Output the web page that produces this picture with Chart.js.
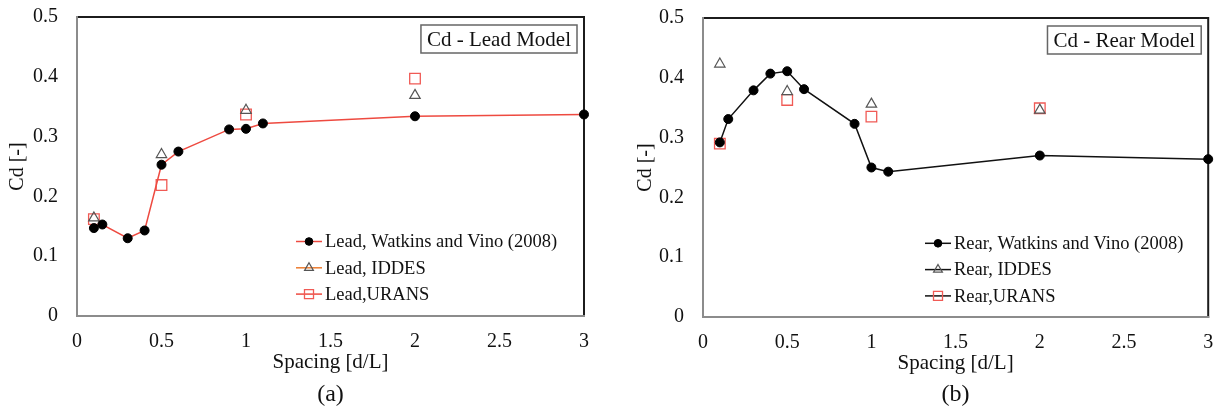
<!DOCTYPE html>
<html><head><meta charset="utf-8">
<script src="https://cdn.jsdelivr.net/npm/chart.js@4/dist/chart.umd.min.js"></script>
<style>
html,body{margin:0;padding:0;background:#fff;width:1217px;height:407px;overflow:hidden}
canvas{position:absolute;top:0}
#ca{left:0}
#cb{left:610px}
</style></head><body>
<canvas id="ca" width="605" height="407"></canvas>
<canvas id="cb" width="607" height="407"></canvas>
<script>
// ---- data ----
const spacingExp = [0.1, 0.15, 0.3, 0.4, 0.5, 0.6, 0.9, 1.0, 1.1, 2.0, 3.0];
const spacingCfd = [0.1, 0.5, 1.0, 2.0];
const leadExp   = [0.147, 0.153, 0.130, 0.143, 0.253, 0.275, 0.312, 0.313, 0.322, 0.334, 0.337];
const leadIddes = [0.164, 0.270, 0.344, 0.369];
const leadUrans = [0.162, 0.219, 0.337, 0.397];
const rearExp   = [0.292, 0.331, 0.379, 0.407, 0.411, 0.381, 0.323, 0.250, 0.243, 0.270, 0.264];
const rearIddes = [0.423, 0.377, 0.356, 0.346];
const rearUrans = [0.290, 0.363, 0.335, 0.349];
const xTickValues = [0, 0.5, 1, 1.5, 2, 2.5, 3];
const yTickValues = [0, 0.1, 0.2, 0.3, 0.4, 0.5];
const leadLabels = ['Lead, Watkins and Vino (2008)', 'Lead, IDDES', 'Lead,URANS'];
const rearLabels = ['Rear, Watkins and Vino (2008)', 'Rear, IDDES', 'Rear,URANS'];

const FONT = "'Liberation Serif', 'Times New Roman', serif";
const pts = (xs, ys) => xs.map((x, i) => ({x: x, y: ys[i]}));
const fmt = v => String(+(+v).toFixed(2));

const decor = {
  id: 'decor',
  beforeDatasetsDraw(chart, args, o) {
    const {ctx, chartArea: a} = chart;
    ctx.save();
    ctx.lineCap = 'square';
    ctx.lineWidth = 2;
    ctx.strokeStyle = '#1c1c1c';
    ctx.beginPath(); ctx.moveTo(a.left, a.top); ctx.lineTo(a.right, a.top); ctx.lineTo(a.right, a.bottom); ctx.stroke();
    ctx.strokeStyle = '#8c8c8c';
    ctx.beginPath(); ctx.moveTo(a.left, a.top); ctx.lineTo(a.left, a.bottom); ctx.lineTo(a.right, a.bottom); ctx.stroke();
    ctx.restore();
  },
  afterDraw(chart, args, o) {
    const {ctx, chartArea: a} = chart;
    ctx.save();
    // title box
    ctx.font = o.boxFont;
    const tw = ctx.measureText(o.boxText).width;
    const bw = tw + 2 * o.boxPad, bh = o.boxH;
    const bx = a.right - o.boxRight - bw, by = a.top + o.boxTop;
    ctx.fillStyle = '#fff'; ctx.fillRect(bx, by, bw, bh);
    ctx.strokeStyle = '#666'; ctx.lineWidth = 1.5; ctx.strokeRect(bx, by, bw, bh);
    ctx.fillStyle = '#111'; ctx.textAlign = 'center'; ctx.textBaseline = 'middle';
    ctx.fillText(o.boxText, bx + bw / 2, by + bh / 2 + 1);
    // legend
    chart.data.datasets.forEach((ds, i) => {
      const y = o.legY + i * o.legRow;
      ctx.strokeStyle = ds.legendLine; ctx.lineWidth = 1.5;
      ctx.beginPath(); ctx.moveTo(o.legX, y); ctx.lineTo(o.legX + o.legLen, y); ctx.stroke();
      ctx.fillStyle = ds.pointBackgroundColor; ctx.strokeStyle = ds.pointBorderColor; ctx.lineWidth = ds.pointBorderWidth;
      Chart.helpers.drawPoint(ctx, {pointStyle: ds.pointStyle, radius: ds.pointRadius * 0.85, borderWidth: ds.pointBorderWidth, rotation: 0}, o.legX + o.legLen / 2, y);
      ctx.fillStyle = '#111'; ctx.textAlign = 'left'; ctx.textBaseline = 'middle';
      ctx.font = o.legFont;
      ctx.fillText(ds.label, o.legX + o.legLen + 3, y + 1);
    });
    // caption
    ctx.font = o.capFont; ctx.textAlign = 'center'; ctx.textBaseline = 'middle'; ctx.fillStyle = '#111';
    ctx.fillText(o.caption, (a.left + a.right) / 2, o.capY);
    ctx.restore();
  }
};

function makeChart(id, labels, exp, iddes, urans, lineColor, iddesLine, uransLine, opts) {
  return new Chart(document.getElementById(id), {
    type: 'scatter',
    data: {
      datasets: [
        {label: labels[0], data: pts(spacingExp, exp), showLine: true, borderColor: lineColor, borderWidth: 1.5,
         legendLine: lineColor, pointStyle: 'circle', pointRadius: 4.5, pointBackgroundColor: '#000', pointBorderColor: '#000', pointBorderWidth: 1, clip: false},
        {label: labels[1], data: pts(spacingCfd, iddes), showLine: false, borderColor: iddesLine,
         legendLine: iddesLine, pointStyle: 'triangle', pointRadius: 6, pointBackgroundColor: 'rgba(255,255,255,0)', pointBorderColor: '#555', pointBorderWidth: 1.2, clip: false},
        {label: labels[2], data: pts(spacingCfd, urans), showLine: false, borderColor: uransLine,
         legendLine: uransLine, pointStyle: 'rect', pointRadius: 7.5, pointBackgroundColor: 'rgba(255,255,255,0)', pointBorderColor: '#f05a55', pointBorderWidth: 1.3, clip: false}
      ]
    },
    options: {
      responsive: false, animation: false, events: [],
      layout: {padding: {left: 0, top: opts.top, right: opts.right, bottom: opts.bottom}},
      scales: {
        x: {type: 'linear', min: 0, max: 3,
            afterBuildTicks: s => { s.ticks = xTickValues.map(v => ({value: v})); },
            afterFit: s => { s.height = opts.xH; s.paddingLeft = 0; s.paddingRight = 0; },
            grid: {display: false, drawTicks: false}, border: {display: false},
            ticks: {padding: opts.xPad, color: '#111', font: {family: FONT, size: 20}, callback: fmt, maxRotation: 0, autoSkip: false},
            title: {display: true, text: 'Spacing [d/L]', color: '#111', font: {family: FONT, size: 21}, padding: {top: 0, bottom: 3}}},
        y: {type: 'linear', min: 0, max: 0.5,
            afterBuildTicks: s => { s.ticks = yTickValues.map(v => ({value: v})); },
            afterFit: s => { s.width = opts.yW; s.paddingTop = 0; s.paddingBottom = 0; },
            grid: {display: false, drawTicks: false}, border: {display: false},
            ticks: {padding: 19, color: '#111', font: {family: FONT, size: 20}, callback: fmt},
            title: {display: true, text: 'Cd [-]', color: '#111', font: {family: FONT, size: 20}, padding: {top: opts.yTitlePad, bottom: 0}}}
      },
      plugins: {
        legend: {display: false}, tooltip: {enabled: false},
        decor: {
          boxText: opts.boxText, boxFont: '21px ' + FONT, boxPad: 6, boxH: 28, boxRight: 7, boxTop: 8,
          legX: opts.legX, legY: opts.legY, legRow: 26.3, legLen: 26, legFont: '18.5px ' + FONT,
          caption: opts.caption, capFont: '24px ' + FONT, capY: 395
        }
      }
    },
    plugins: [decor]
  });
}

makeChart('ca', leadLabels, leadExp, leadIddes, leadUrans, '#ee4a40', '#ed7d31', '#ee4a40',
  {top: 17, right: 21, bottom: 29, xH: 62, xPad: 14, yW: 77, yTitlePad: 6,
   boxText: 'Cd - Lead Model', legX: 296, legY: 241.5, caption: '(a)'});
makeChart('cb', rearLabels, rearExp, rearIddes, rearUrans, '#111', '#111', '#111',
  {top: 18, right: 6, bottom: 28, xH: 62, xPad: 14, yW: 93, yTitlePad: 24,
   boxText: 'Cd - Rear Model', legX: 315, legY: 243.3, caption: '(b)'});
</script>
</body></html>
